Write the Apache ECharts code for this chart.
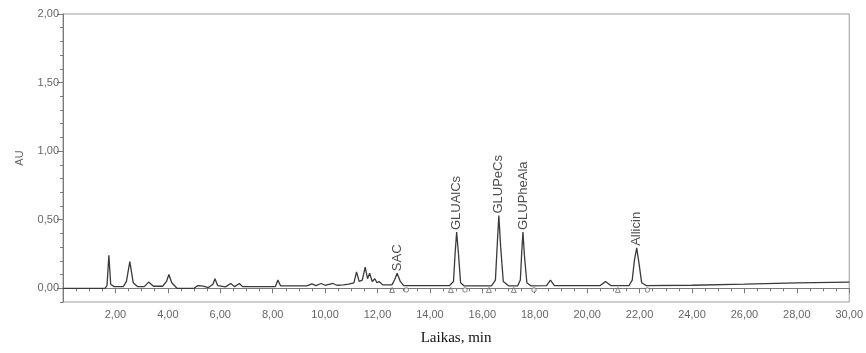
<!DOCTYPE html>
<html>
<head>
<meta charset="utf-8">
<script src="https://cdn.jsdelivr.net/npm/echarts@6/dist/echarts.min.js"></script>
<style>
  html, body { margin: 0; padding: 0; background: #fff; }
  #chart { width: 866px; height: 353px; }
</style>
</head>
<body>
<div id="chart"></div>
<script>
// chromatogram trace: [time min, AU]
const trace = [
  [0, 0.0], [1.6, 0.0], [1.68, 0.02], [1.75, 0.24], [1.82, 0.03], [1.95, 0.012],
  [2.3, 0.012], [2.42, 0.05], [2.55, 0.195], [2.68, 0.04], [2.85, 0.012],
  [3.1, 0.012], [3.27, 0.045], [3.45, 0.015], [3.8, 0.015], [3.95, 0.05],
  [4.04, 0.1], [4.15, 0.04], [4.35, 0.0], [5.0, 0.0], [5.15, 0.02], [5.35, 0.015],
  [5.55, 0.005], [5.72, 0.03], [5.8, 0.07], [5.9, 0.02], [6.2, 0.01], [6.4, 0.035],
  [6.55, 0.012], [6.73, 0.035], [6.85, 0.012], [8.1, 0.012], [8.2, 0.06],
  [8.3, 0.018], [9.3, 0.018], [9.5, 0.032], [9.65, 0.02], [9.85, 0.035],
  [10.0, 0.022], [10.3, 0.035], [10.45, 0.022], [10.7, 0.025], [10.9, 0.03],
  [11.1, 0.04], [11.2, 0.12], [11.3, 0.05], [11.42, 0.06], [11.53, 0.155],
  [11.62, 0.07], [11.7, 0.11], [11.8, 0.05], [11.9, 0.07], [11.98, 0.04],
  [12.06, 0.05], [12.2, 0.025], [12.55, 0.025], [12.65, 0.06], [12.75, 0.11],
  [12.87, 0.05], [13.0, 0.02], [14.75, 0.02], [14.9, 0.05], [14.96, 0.25],
  [15.02, 0.41], [15.09, 0.25], [15.17, 0.04], [15.3, 0.018], [16.35, 0.018],
  [16.5, 0.06], [16.57, 0.32], [16.63, 0.53], [16.7, 0.3], [16.8, 0.05],
  [17.0, 0.018], [17.35, 0.018], [17.45, 0.06], [17.5, 0.25], [17.55, 0.41],
  [17.61, 0.23], [17.7, 0.04], [17.85, 0.018], [18.45, 0.02], [18.6, 0.06],
  [18.75, 0.02], [20.5, 0.02], [20.7, 0.05], [20.9, 0.02], [21.6, 0.02],
  [21.72, 0.06], [21.8, 0.2], [21.89, 0.295], [21.98, 0.18], [22.08, 0.04],
  [22.25, 0.02], [24, 0.022], [26, 0.03], [28, 0.04], [30, 0.045]
]

// named peaks
const peakNames = ['SAC', 'GLUAlCs', 'GLUPeCs', 'GLUPheAla', 'Allicin']
const peakTimes = [12.75, 15.02, 16.63, 17.55, 21.89]
const peakHeights = [0.11, 0.41, 0.53, 0.41, 0.295]

// integration start / end marks
const startMarks = [12.56, 14.8, 16.25, 17.2, 21.17]
const endMarks = [13.1, 15.34, 17.97, 22.3]
const markLevel = -0.012

const fmt = v => v.toFixed(2).replace('.', ',')

const grey = '#7a7a7a'
const labelFont = 'Liberation Sans, Arial, sans-serif'

const chart = echarts.init(document.getElementById('chart'))
chart.setOption({
  animation: false,
  grid: [
    { left: 63, right: 16, top: 14, bottom: 51, show: true, borderColor: '#999', borderWidth: 1 },
    { left: 63, right: 16, top: 14, bottom: 65 }
  ],
  xAxis: [
    {
      type: 'value', gridIndex: 0, min: 0, max: 30, interval: 2,
      axisLine: { show: true, lineStyle: { color: grey } },
      axisTick: { show: true, length: 5, lineStyle: { color: grey } },
      minorTick: { show: true, splitNumber: 4, length: 3, lineStyle: { color: grey } },
      splitLine: { show: false },
      axisLabel: {
        showMinLabel: false, margin: 7, fontSize: 11, color: '#666', fontFamily: labelFont,
        formatter: fmt
      },
      name: 'Laikas, min', nameLocation: 'middle', nameGap: 29,
      nameTextStyle: { fontFamily: 'Liberation Serif, Times New Roman, serif', fontSize: 15, color: '#111' }
    },
    { type: 'value', gridIndex: 1, min: 0, max: 30, show: false }
  ],
  yAxis: [
    {
      type: 'value', gridIndex: 0, min: -0.1, max: 2.0, interval: 0.1,
      axisLine: { show: true, lineStyle: { color: grey } },
      axisTick: { show: true, length: 3, lineStyle: { color: grey } },
      axisLabel: { show: false },
      splitLine: { show: false },
      name: 'AU', nameLocation: 'middle', nameGap: 38, nameRotate: 90,
      nameTextStyle: { fontSize: 11, color: '#666', fontFamily: labelFont }
    },
    {
      type: 'value', gridIndex: 1, min: 0, max: 2.0, interval: 0.5,
      axisLine: { show: false },
      axisTick: { show: true, length: 6, lineStyle: { color: grey } },
      axisLabel: { fontSize: 11, color: '#666', margin: 4, fontFamily: labelFont, formatter: fmt },
      splitLine: { show: false }
    }
  ],
  series: [
    {
      type: 'line', xAxisIndex: 0, yAxisIndex: 0,
      data: trace, symbol: 'none',
      lineStyle: { color: '#3a3a3a', width: 1.3 }
    },
    {
      type: 'scatter', xAxisIndex: 0, yAxisIndex: 0,
      data: peakTimes.map((t, i) => ({ value: [t, peakHeights[i]], name: peakNames[i] })),
      symbolSize: 0,
      label: {
        show: true, position: 'top', distance: 2, rotate: 90,
        align: 'left', verticalAlign: 'middle',
        formatter: p => p.name,
        fontSize: 13, color: '#222', fontFamily: labelFont
      }
    },
    {
      type: 'scatter', xAxisIndex: 0, yAxisIndex: 0,
      data: startMarks.map(t => [t, markLevel]),
      symbol: 'triangle', symbolSize: 5,
      itemStyle: { color: '#fff', borderColor: '#555', borderWidth: 0.9 }
    },
    {
      type: 'scatter', xAxisIndex: 0, yAxisIndex: 0,
      data: endMarks.map(t => [t, markLevel]),
      symbol: 'circle', symbolSize: 4.5,
      itemStyle: { color: '#fff', borderColor: '#555', borderWidth: 0.9 }
    }
  ]
})
</script>
</body>
</html>
